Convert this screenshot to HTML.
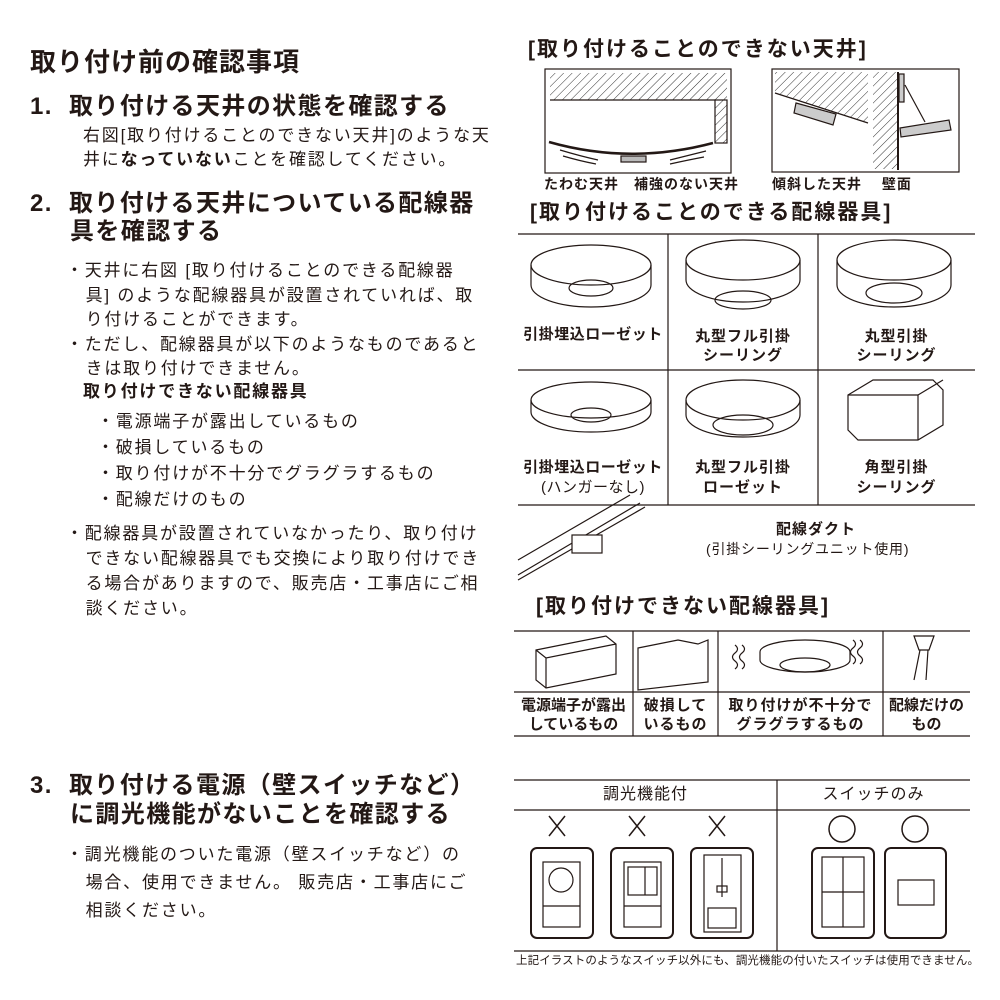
<!DOCTYPE html>
<html><head><meta charset="utf-8"><style>
body{margin:0;width:1000px;height:1000px;background:#fff;position:relative;overflow:hidden;font-family:"Liberation Sans","Noto Sans CJK JP",sans-serif;color:#231815}
.t{position:absolute;white-space:nowrap;line-height:1}
.b{font-weight:bold}
.c{text-align:center}
.p{letter-spacing:1.8px}
.h{letter-spacing:1.4px}
svg{position:absolute;left:0;top:0}
</style></head><body>
<svg width="1000" height="1000" viewBox="0 0 1000 1000">
<defs><pattern id="h" width="6" height="6" patternUnits="userSpaceOnUse" patternTransform="rotate(45)"><line x1="0" y1="0" x2="0" y2="6" stroke="#333" stroke-width="1"/></pattern></defs>
<g stroke="#231815" fill="none" stroke-width="1.2">
<rect x="545" y="69" width="186" height="104"/>
<rect x="550" y="73" width="177" height="27" fill="url(#h)" stroke="none"/>
<line x1="550" y1="100" x2="715" y2="100"/>
<rect x="715" y="100" width="12" height="43" fill="url(#h)"/>
<path d="M549 142 Q630 165 713 143" stroke-width="2.5"/>
<rect x="621" y="156" width="25" height="6" fill="#bbb"/>
<path d="M560 150 Q580 156 598 160 M563 156 Q580 161 596 164 M670 160 Q690 155 706 151 M670 164 Q688 160 704 157"/>
<rect x="772" y="69" width="187" height="103"/>
<polygon points="775,72 868,72 868,123 775,93" fill="url(#h)" stroke="none"/>
<line x1="775" y1="93" x2="868" y2="123"/>
<rect x="873" y="72" width="25" height="97" fill="url(#h)" stroke="none"/>
<line x1="898" y1="72" x2="898" y2="170" stroke-width="2"/>
<polygon points="796,103 836,114 833,125 794,113" fill="#ccc"/>
<rect x="899" y="74" width="5" height="28" fill="#ccc"/>
<line x1="905" y1="85" x2="925" y2="122"/>
<polygon points="900,128 949,120 951,130 901,137" fill="#ccc"/>
<line x1="518" y1="234" x2="975" y2="234"/>
<line x1="518" y1="370" x2="975" y2="370"/>
<line x1="518" y1="505" x2="975" y2="505"/>
<line x1="668" y1="234" x2="668" y2="505"/>
<line x1="818" y1="234" x2="818" y2="505"/>
<g>
<path d="M531 265 v20 a60 22 0 0 0 120 0 v-20"/><ellipse cx="591" cy="265" rx="60" ry="20"/><ellipse cx="591" cy="288" rx="22" ry="8"/>
<path d="M686 260 v20 a57 22 0 0 0 114 0 v-20"/><ellipse cx="743" cy="260" rx="57" ry="20"/><ellipse cx="743" cy="300" rx="28" ry="9"/>
<path d="M837 260 v25 a57 22 0 0 0 114 0 v-25"/><ellipse cx="894" cy="260" rx="57" ry="20"/><ellipse cx="894" cy="293" rx="28" ry="10"/>
<path d="M531 400 v12 a60 20 0 0 0 120 0 v-12"/><ellipse cx="591" cy="400" rx="60" ry="18"/><ellipse cx="591" cy="415" rx="20" ry="7"/>
<path d="M686 400 v15 a57 22 0 0 0 114 0 v-15"/><ellipse cx="743" cy="400" rx="57" ry="20"/><ellipse cx="743" cy="425" rx="30" ry="10"/>
<path d="M848 395 l25 -15 h60 l10 10 v35 l-25 15 h-60 l-10 -10z"/><line x1="848" y1="395" x2="918" y2="395"/><line x1="918" y1="395" x2="943" y2="380"/><line x1="918" y1="395" x2="918" y2="440"/>
</g>
<path d="M518 560 L630 495 M518 575 L640 503 M518 580 L645 507"/>
<rect x="572" y="535" width="30" height="18" fill="#fff"/>
<line x1="514" y1="631" x2="970" y2="631"/>
<line x1="514" y1="692" x2="970" y2="692"/>
<line x1="514" y1="736" x2="970" y2="736"/>
<line x1="633" y1="631" x2="633" y2="736"/>
<line x1="718" y1="631" x2="718" y2="736"/>
<line x1="883" y1="631" x2="883" y2="736"/>
<path d="M536 650 l70 -14 l10 8 v30 l-70 14 l-10 -8z M536 650 l10 8 l70 -14 M546 658 v30"/>
<path d="M638 648 l40 -8 l20 4 l10 -4 v42 l-70 8z"/>
<path d="M760 660 a45 12 0 0 0 90 0 v-8 a45 12 0 0 0 -90 0z"/><ellipse cx="805" cy="665" rx="25" ry="7"/>
<path d="M735 645 q5 4 0 8 q-5 4 0 8 q5 4 0 8 M742 645 q5 4 0 8 q-5 4 0 8 q5 4 0 8 M853 640 q5 4 0 8 q-5 4 0 8 q5 4 0 8 M860 640 q5 4 0 8 q-5 4 0 8 q5 4 0 8"/>
<path d="M914 636 h20 l-5 14 h-10z M920 650 l-6 30 M928 650 l-2 30"/>
<line x1="514" y1="780" x2="970" y2="780"/>
<line x1="514" y1="810" x2="970" y2="810"/>
<line x1="514" y1="951" x2="970" y2="951"/>
<line x1="777" y1="780" x2="777" y2="951"/>
<path d="M549 816 l16 20 M565 816 l-16 20 M629 816 l16 20 M645 816 l-16 20 M709 816 l16 20 M725 816 l-16 20" stroke-width="1.5"/>
<circle cx="842" cy="829" r="13" stroke-width="1.5"/><circle cx="915" cy="829" r="13" stroke-width="1.5"/>
<g stroke-width="2">
<rect x="531" y="848" width="62" height="90" rx="6"/><rect x="611" y="848" width="62" height="90" rx="6"/><rect x="691" y="848" width="62" height="90" rx="6"/>
<rect x="812" y="848" width="62" height="90" rx="6"/><rect x="885" y="848" width="61" height="90" rx="6"/>
</g>
<rect x="543" y="862" width="37" height="65"/><line x1="543" y1="906" x2="580" y2="906"/><circle cx="561" cy="880" r="12"/>
<rect x="624" y="862" width="37" height="65"/><line x1="624" y1="906" x2="661" y2="906"/><rect x="628" y="867" width="29" height="28"/><line x1="645" y1="867" x2="645" y2="895"/>
<rect x="704" y="855" width="37" height="77"/><line x1="722" y1="858" x2="722" y2="897"/><rect x="717" y="886" width="10" height="6"/><rect x="708" y="908" width="28" height="20"/>
<rect x="822" y="857" width="42" height="70"/><line x1="843" y1="857" x2="843" y2="927"/><line x1="822" y1="892" x2="864" y2="892"/>
<rect x="898" y="880" width="36" height="25"/>
</g>
</svg>
<div class="t b" style="left:30px;top:49px;font-size:26px;letter-spacing:1px">取り付け前の確認事項</div>
<div class="t b h" style="left:30px;top:95px;font-size:24px">1.&nbsp; 取り付ける天井の状態を確認する</div>
<div class="t p" style="left:83px;top:127px;font-size:17px">右図[取り付けることのできない天井]のような天</div>
<div class="t p" style="left:83px;top:151px;font-size:17px">井に<b>なっていない</b>ことを確認してください。</div>
<div class="t b h" style="left:30px;top:192px;font-size:24px">2.&nbsp; 取り付ける天井についている配線器</div>
<div class="t b h" style="left:70px;top:220px;font-size:24px">具を確認する</div>
<div class="t p" style="left:66px;top:259px;font-size:17px;line-height:24.5px">・天井に右図 [取り付けることのできる配線器<br>&nbsp;&nbsp;&nbsp;具] のような配線器具が設置されていれば、取<br>&nbsp;&nbsp;&nbsp;り付けることができます。<br>・ただし、配線器具が以下のようなものであると<br>&nbsp;&nbsp;&nbsp;きは取り付けできません。</div>
<div class="t b p" style="left:83px;top:383px;font-size:17px">取り付けできない配線器具</div>
<div class="t p" style="left:97px;top:409px;font-size:17px;line-height:26px">・電源端子が露出しているもの<br>・破損しているもの<br>・取り付けが不十分でグラグラするもの<br>・配線だけのもの</div>
<div class="t p" style="left:66px;top:521px;font-size:17px;line-height:25px">・配線器具が設置されていなかったり、取り付け<br>&nbsp;&nbsp;&nbsp;できない配線器具でも交換により取り付けでき<br>&nbsp;&nbsp;&nbsp;る場合がありますので、販売店・工事店にご相<br>&nbsp;&nbsp;&nbsp;談ください。</div>
<div class="t b h" style="left:30px;top:774px;font-size:24px">3.&nbsp; 取り付ける電源（壁スイッチなど）</div>
<div class="t b h" style="left:70px;top:803px;font-size:24px">に調光機能がないことを確認する</div>
<div class="t p" style="left:66px;top:841px;font-size:17px;line-height:28px">・調光機能のついた電源（壁スイッチなど）の<br>&nbsp;&nbsp;&nbsp;場合、使用できません。 販売店・工事店にご<br>&nbsp;&nbsp;&nbsp;相談ください。</div>

<div class="t b" style="left:528px;top:39px;font-size:21px;letter-spacing:2px">[取り付けることのできない天井]</div>
<div class="t b" style="left:544px;top:177px;font-size:14px;letter-spacing:1px">たわむ天井　補強のない天井</div>
<div class="t b" style="left:772px;top:177px;font-size:14px;letter-spacing:1px">傾斜した天井　 壁面</div>
<div class="t b" style="left:530px;top:202px;font-size:21px;letter-spacing:2px">[取り付けることのできる配線器具]</div>
<div class="t b c" style="left:518px;top:327px;width:150px;font-size:15px;letter-spacing:0.5px">引掛埋込ローゼット</div>
<div class="t b c" style="left:668px;top:327px;width:150px;font-size:15px;line-height:19px;letter-spacing:1px">丸型フル引掛<br>シーリング</div>
<div class="t b c" style="left:818px;top:327px;width:157px;font-size:15px;line-height:19px;letter-spacing:1px">丸型引掛<br>シーリング</div>
<div class="t b c" style="left:518px;top:458px;width:150px;font-size:15px;line-height:20px;letter-spacing:0.5px">引掛埋込ローゼット<br><span style="font-weight:normal">(ハンガーなし)</span></div>
<div class="t b c" style="left:668px;top:458px;width:150px;font-size:15px;line-height:20px;letter-spacing:1px">丸型フル引掛<br>ローゼット</div>
<div class="t b c" style="left:818px;top:458px;width:157px;font-size:15px;line-height:20px;letter-spacing:1px">角型引掛<br>シーリング</div>
<div class="t b" style="left:776px;top:522px;font-size:15px;letter-spacing:1px">配線ダクト</div>
<div class="t" style="left:706px;top:542px;font-size:14px;letter-spacing:0.8px">(引掛シーリングユニット使用)</div>
<div class="t b" style="left:536px;top:596px;font-size:21px;letter-spacing:2px">[取り付けできない配線器具]</div>
<div class="t b c" style="left:514px;top:696px;width:119px;font-size:15px;line-height:19px">電源端子が露出<br>しているもの</div>
<div class="t b c" style="left:633px;top:696px;width:85px;font-size:15px;line-height:19px;letter-spacing:1px">破損して<br>いるもの</div>
<div class="t b c" style="left:718px;top:696px;width:165px;font-size:15px;line-height:19px;letter-spacing:1px">取り付けが不十分で<br>グラグラするもの</div>
<div class="t b c" style="left:883px;top:696px;width:87px;font-size:15px;line-height:19px">配線だけの<br>もの</div>
<div class="t c" style="left:514px;top:787px;width:263px;font-size:16px;letter-spacing:1px">調光機能付</div>
<div class="t c" style="left:777px;top:787px;width:193px;font-size:16px;letter-spacing:1px">スイッチのみ</div>
<div class="t" style="left:516px;top:956px;font-size:11.5px;letter-spacing:0.1px">上記イラストのようなスイッチ以外にも、調光機能の付いたスイッチは使用できません。</div>
</body></html>
